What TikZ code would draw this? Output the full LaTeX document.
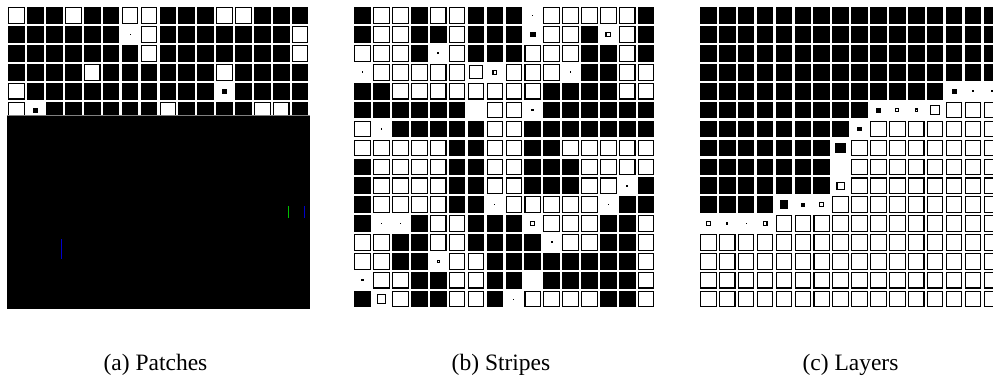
\documentclass[tikz,border=0pt]{standalone}
\usepackage{fontspec}
\setmainfont{Liberation Serif}
\tikzset{
  hollowcell/.style={draw=black, line width=1.1pt, fill=white},
  solidcell/.style={fill=black},
  caption/.style={font=\fontsize{23.5}{28}\selectfont, anchor=base, inner sep=0pt}
}
% #1 = grid left, #2 = row number, #3 = list of cell values
\newcommand{\mycellrow}[3]{%
  \foreach \v [count=\i] in {#3} {
      \pgfmathsetmacro{\cx}{#1+8.3+(\i-1)*18.9}
      \pgfmathsetmacro{\cy}{7.3+8.3+(#2-1)*18.9}
      \pgfmathsetmacro{\hs}{8.3*abs(\v)}
      \ifdim \v pt>0pt
        \fill[solidcell] (\cx-\hs,\cy-\hs) rectangle (\cx+\hs,\cy+\hs);
      \else\ifdim \v pt<0pt
        \pgfmathsetmacro{\hi}{max(\hs-0.55,0.35)}
        \draw[hollowcell] (\cx-\hi,\cy-\hi) rectangle (\cx+\hi,\cy+\hi);
      \fi\fi
  }%
}
\begin{document}
\begin{tikzpicture}[x=1pt,y=-1pt]
\useasboundingbox (0,0) rectangle (993,380);
\clip (0,0) rectangle (993,380);
% (a) Patches
\mycellrow{8.3}{1}{-1,1,1,-1,1,1,-1,-1,1,1,1,-1,-1,1,1,1}
\mycellrow{8.3}{2}{1,1,1,1,1,1,0.06,-1,1,1,1,1,1,1,1,-1}
\mycellrow{8.3}{3}{1,1,1,1,1,1,1,-1,1,1,1,1,1,1,1,-1}
\mycellrow{8.3}{4}{1,1,1,1,-1,1,1,1,1,1,1,-1,1,1,1,1}
\mycellrow{8.3}{5}{-1,1,1,1,1,1,1,1,1,1,1,0.3,1,1,1,1}
\mycellrow{8.3}{6}{-1,0.3,1,1,1,1,1,1,-1,1,1,1,1,-1,-1,1}
\fill[black] (6.7,115.5) rectangle (310,309);
\draw[gray, line width=0.8pt] (6.7,115.6) -- (310,115.6);
\draw[green!75!black, line width=1pt] (288.3,206) -- (288.3,218);
\draw[blue!80!black, line width=1pt] (304.3,206) -- (304.3,218);
\draw[blue!80!black, line width=1pt] (61,239) -- (61,259);
% (b) Stripes
\mycellrow{354.3}{1}{1,-1,-1,1,-1,-1,1,1,1,0.06,-1,-1,-1,-1,-1,1}
\mycellrow{354.3}{2}{1,-1,-1,1,1,-1,1,1,1,0.35,-1,-1,1,-0.35,-1,1}
\mycellrow{354.3}{3}{-1,-1,-1,1,0.12,-1,1,1,1,-1,-1,-1,1,1,-1,1}
\mycellrow{354.3}{4}{0.1,-1,-1,-1,-1,-1,-0.85,-0.3,-1,-1,-1,0.1,1,1,-1,-1}
\mycellrow{354.3}{5}{1,1,-1,-1,-1,-1,-1,-1,-1,-1,1,1,1,1,-1,-1}
\mycellrow{354.3}{6}{1,1,1,1,1,1,0,-1,-1,0.15,1,1,1,1,1,1}
\mycellrow{354.3}{7}{-1,0.1,1,1,1,1,1,-1,-1,1,1,1,1,1,1,1}
\mycellrow{354.3}{8}{-1,-1,-1,-1,-1,1,1,-1,-1,1,1,-1,-1,-1,-1,-1}
\mycellrow{354.3}{9}{1,-1,-1,-1,-1,1,1,-1,-1,1,1,1,-1,-1,-1,-1}
\mycellrow{354.3}{10}{1,-1,-1,-1,-1,1,1,-1,-1,1,1,1,-1,-1,0.12,1}
\mycellrow{354.3}{11}{1,-1,-1,-1,-1,1,1,0.05,-1,-1,-1,-1,-1,0.05,1,1}
\mycellrow{354.3}{12}{1,0.05,0.1,1,-1,-1,1,1,1,-0.3,-1,-1,-1,1,1,-1}
\mycellrow{354.3}{13}{-1,-1,1,1,-1,-1,1,1,1,1,0.12,-1,-1,1,1,-1}
\mycellrow{354.3}{14}{-1,-1,1,1,-0.2,-1,-1,1,1,1,1,1,1,1,1,-1}
\mycellrow{354.3}{15}{0.15,-1,-1,1,1,-1,-1,1,1,0,1,1,1,1,1,-1}
\mycellrow{354.3}{16}{1,-0.6,-1,1,1,-1,-1,1,0.07,-1,-1,-1,-1,1,1,-1}
% (c) Layers
\mycellrow{700}{1}{1,1,1,1,1,1,1,1,1,1,1,1,1,1,1,1}
\mycellrow{700}{2}{1,1,1,1,1,1,1,1,1,1,1,1,1,1,1,1}
\mycellrow{700}{3}{1,1,1,1,1,1,1,1,1,1,1,1,1,1,1,1}
\mycellrow{700}{4}{1,1,1,1,1,1,1,1,1,1,1,1,1,1,1,1}
\mycellrow{700}{5}{1,1,1,1,1,1,1,1,1,1,1,1,1,0.3,0.1,0.1}
\mycellrow{700}{6}{1,1,1,1,1,1,1,1,1,0.3,-0.25,-0.2,-0.6,-1,-1,-1}
\mycellrow{700}{7}{1,1,1,1,1,1,1,1,0.3,-1,-1,-1,-1,-1,-1,-1}
\mycellrow{700}{8}{1,1,1,1,1,1,1,0.65,-1,-1,-1,-1,-1,-1,-1,-1}
\mycellrow{700}{9}{1,1,1,1,1,1,1,0,-1,-1,-1,-1,-1,-1,-1,-1}
\mycellrow{700}{10}{1,1,1,1,1,1,1,-0.5,-1,-1,-1,-1,-1,-1,-1,-1}
\mycellrow{700}{11}{1,1,1,1,0.5,0.25,-0.3,-1,-1,-1,-1,-1,-1,-1,-1,-1}
\mycellrow{700}{12}{-0.3,0.15,0.05,-0.3,-1,-1,-1,-1,-1,-1,-1,-1,-1,-1,-1,-1}
\mycellrow{700}{13}{-1,-1,-1,-1,-1,-1,-1,-1,-1,-1,-1,-1,-1,-1,-1,-1}
\mycellrow{700}{14}{-1,-1,-1,-1,-1,-1,-1,-1,-1,-1,-1,-1,-1,-1,-1,-1}
\mycellrow{700}{15}{-1,-1,-1,-1,-1,-1,-1,-1,-1,-1,-1,-1,-1,-1,-1,-1}
\mycellrow{700}{16}{-1,-1,-1,-1,-1,-1,-1,-1,-1,-1,-1,-1,-1,-1,-1,-1}
% captions
\node[caption] (capa) at (155.5,370.7) {(a) Patches};
\node[caption] (capb) at (501,370.7) {(b) Stripes};
\node[caption] (capc) at (850.5,370.7) {(c) Layers};
\end{tikzpicture}
\end{document}
